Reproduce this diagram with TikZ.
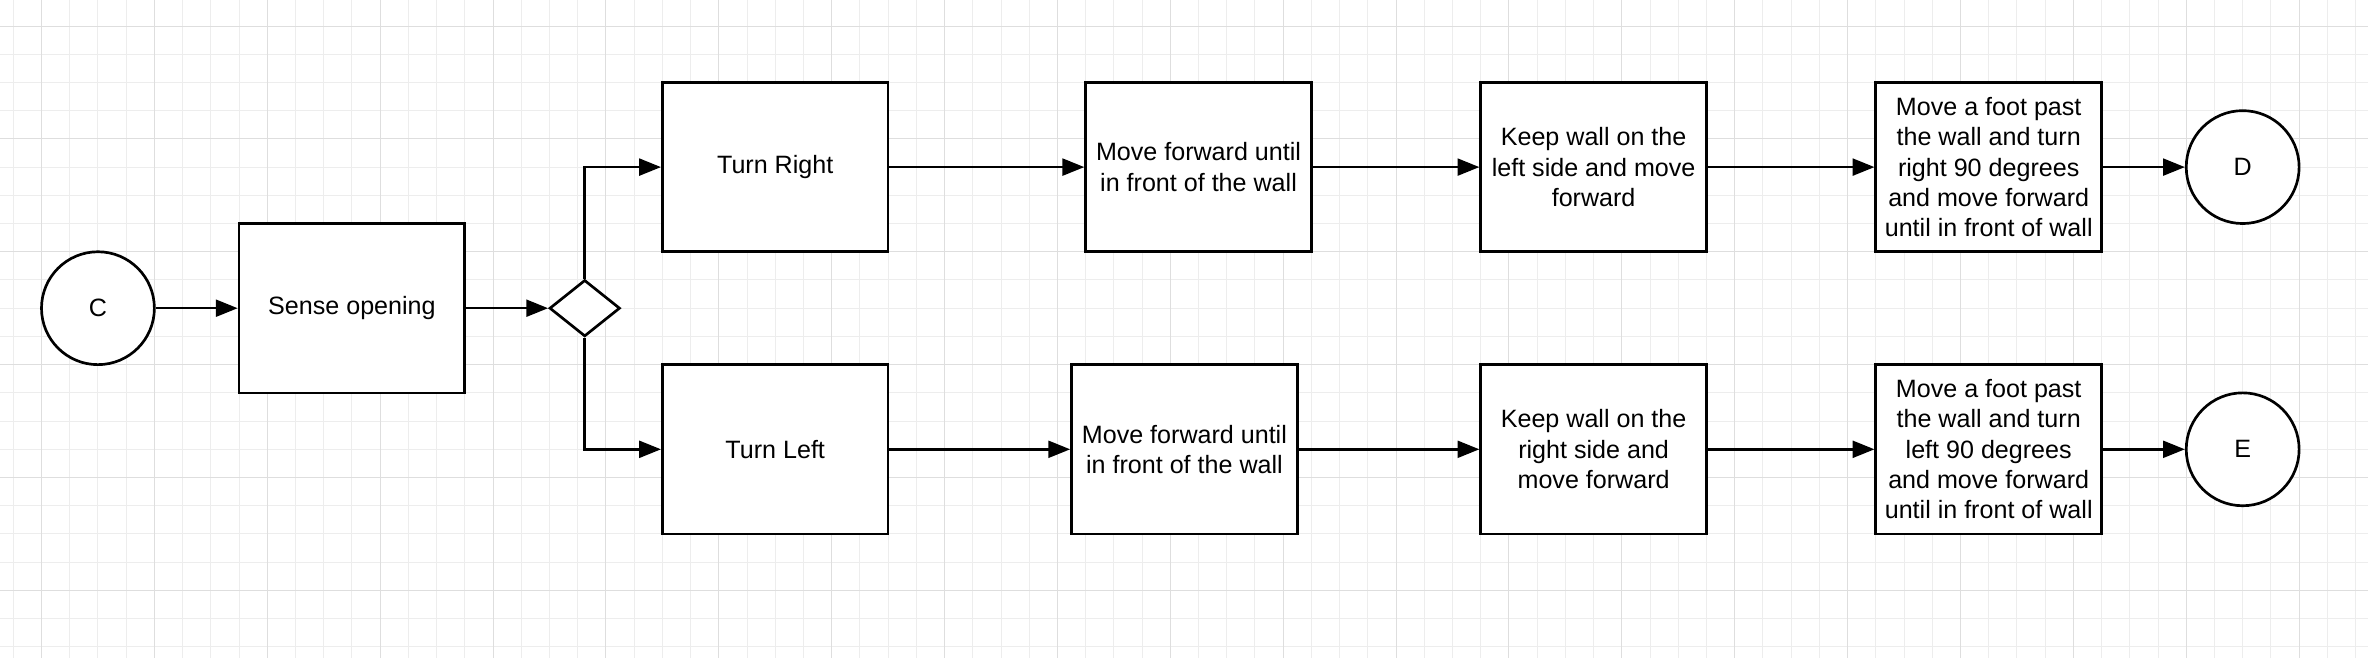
\documentclass[tikz,border=0pt]{standalone}
\usepackage{fontspec}
\setmainfont{Liberation Sans}
\usetikzlibrary{arrows.meta,shapes.geometric}
\tikzset{
	blok/.style={draw,line width=1.35pt,fill=white,minimum width=4cm,minimum height=3cm,align=center,inner sep=2pt},
	rond/.style={draw,circle,line width=1.35pt,fill=white,minimum size=2cm,inner sep=0pt},
	keuze/.style={draw,diamond,line width=1.35pt,fill=white,minimum width=1.25cm,minimum height=1cm,inner sep=0pt},
	pijl/.style={-{Triangle[length=11pt,width=8.5pt]},line width=1.3pt}
}
\begin{document}
\begin{tikzpicture}[x=0.5cm,y=-0.5cm,line join=miter,font=\fontsize{12.65}{15.3}\selectfont]
	\def\l{-1.4706}
	\def\r{82.441}
	\def\t{-0.9213}
	\def\b{22.396}
	\useasboundingbox[fill=white] (\l,\t) rectangle (\r,\b);
	% raster
	\foreach \x in {-1,...,82}
	\draw[black!7,line width=0.5pt] (\x,\t)--(\x,\b);
	\foreach \y in {0,...,22}
	\draw[black!7,line width=0.5pt] (\l,\y)--(\r,\y);
	\foreach \x in {0,4,...,80}
	\draw[black!13,line width=0.5pt] (\x,\t)--(\x,\b);
	\foreach \y in {0,4,...,20}
	\draw[black!13,line width=0.5pt] (\l,\y)--(\r,\y);
	% knopen
	\node[rond] (c) at (2,10) {C};
	\node[blok] (sense) at (11,10) {Sense opening};
	\node[keuze] (dec) at (19.25,10) {};
	\node[blok] (right) at (26,5) {Turn Right};
	\node[blok] (left) at (26,15) {Turn Left};
	\node[blok] (fwdR) at (41,5) {Move forward until\\in front of the wall};
	\node[blok] (fwdL) at (40.5,15) {Move forward until\\in front of the wall};
	\node[blok] (keepR) at (55,5) {Keep wall on the\\left side and move\\forward};
	\node[blok] (keepL) at (55,15) {Keep wall on the\\right side and\\move forward};
	\node[blok] (footR) at (69,5) {Move a foot past\\the wall and turn\\right 90 degrees\\and move forward\\until in front of wall};
	\node[blok] (footL) at (69,15) {Move a foot past\\the wall and turn\\left 90 degrees\\and move forward\\until in front of wall};
	\node[rond] (d) at (78,5) {D};
	\node[rond] (e) at (78,15) {E};
	% pijlen
	\draw[pijl] (c)--(sense);
	\draw[pijl] (sense)--(dec);
	\draw[pijl] (dec.north) |- (right);
	\draw[pijl] (dec.south) |- (left);
	\draw[pijl] (right)--(fwdR);
	\draw[pijl] (fwdR)--(keepR);
	\draw[pijl] (keepR)--(footR);
	\draw[pijl] (footR)--(d);
	\draw[pijl] (left)--(fwdL);
	\draw[pijl] (fwdL)--(keepL);
	\draw[pijl] (keepL)--(footL);
	\draw[pijl] (footL)--(e);
\end{tikzpicture}
\end{document}
